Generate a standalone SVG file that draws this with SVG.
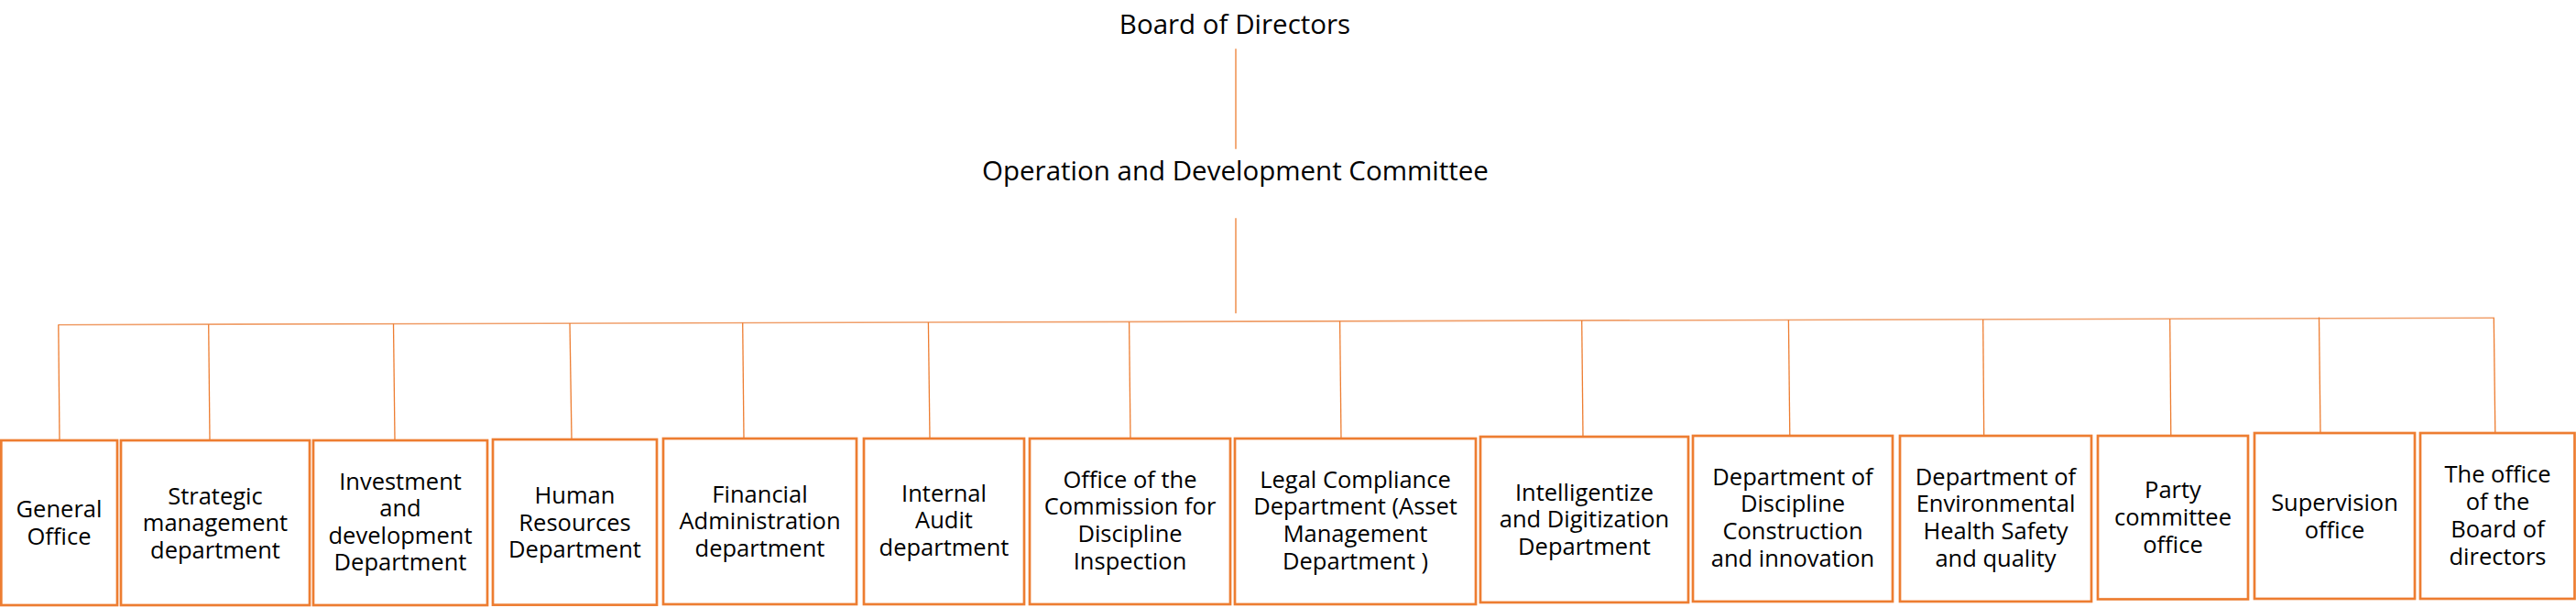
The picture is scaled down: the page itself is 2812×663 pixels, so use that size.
<svg xmlns="http://www.w3.org/2000/svg" width="2812" height="663" viewBox="0 0 2812 663">
<style>
.bg{fill:#fff}
.box{fill:#fff;stroke:#ED7D31;stroke-width:2.7}
.con{stroke:#ED7D31;stroke-width:1.3;fill:none}
.bus{stroke:#F0A06C;stroke-width:1.6;fill:none}
.t{font-family:"Open Sans","Noto Sans","Liberation Sans",sans-serif;fill:#000;text-anchor:middle}
.title{font-size:29.5px}
.lbl{font-size:25.5px}
</style>
<rect class="bg" x="0" y="0" width="2812" height="663"/>
<g id="connectors">
<line class="con" x1="1349" y1="53.3" x2="1349" y2="162.7"/>
<line class="con" x1="1349" y1="238.3" x2="1349" y2="342.3"/>
<line class="bus" x1="63.5" y1="354.7" x2="2723" y2="347.3"/>
<line class="con" x1="63.8" y1="354.7" x2="65" y2="481"/>
<line class="con" x1="227.7" y1="354.2" x2="229" y2="481"/>
<line class="con" x1="429.5" y1="353.7" x2="431" y2="481"/>
<line class="con" x1="622" y1="353.1" x2="624" y2="480"/>
<line class="con" x1="810.7" y1="352.6" x2="812" y2="479"/>
<line class="con" x1="1013.4" y1="352" x2="1015" y2="479"/>
<line class="con" x1="1232.6" y1="351.4" x2="1234" y2="479"/>
<line class="con" x1="1462.6" y1="350.8" x2="1464" y2="479"/>
<line class="con" x1="1726.7" y1="350.1" x2="1728" y2="477"/>
<line class="con" x1="1952.4" y1="349.4" x2="1953.8" y2="476"/>
<line class="con" x1="2164.7" y1="348.9" x2="2165.7" y2="476"/>
<line class="con" x1="2368.7" y1="348.3" x2="2369.8" y2="476"/>
<line class="con" x1="2531.5" y1="346.5" x2="2533" y2="473"/>
<line class="con" x1="2722.3" y1="347.3" x2="2723.8" y2="473"/>
</g>
<g id="board">
<text class="t title" x="1348" y="37.3">Board of Directors</text>
</g>
<g id="committee">
<text class="t title" x="1348.5" y="196.7">Operation and Development Committee</text>
</g>
<g id="n1">
<rect class="box" x="1.3" y="481" width="126.7" height="180"/>
<text class="t lbl" x="64.5" y="565">General</text>
<text class="t lbl" x="64.5" y="595">Office</text>
</g>
<g id="n2">
<rect class="box" x="132" y="481" width="206" height="180"/>
<text class="t lbl" x="235" y="550.5">Strategic</text>
<text class="t lbl" x="235" y="580">management</text>
<text class="t lbl" x="235" y="609.5">department</text>
</g>
<g id="n3">
<rect class="box" x="342" y="481" width="190" height="180"/>
<text class="t lbl" x="437" y="534.5">Investment</text>
<text class="t lbl" x="437" y="564">and</text>
<text class="t lbl" x="437" y="593.5">development</text>
<text class="t lbl" x="437" y="623">Department</text>
</g>
<g id="n4">
<rect class="box" x="538" y="480" width="179" height="180.7"/>
<text class="t lbl" x="627.5" y="550">Human</text>
<text class="t lbl" x="627.5" y="579.5">Resources</text>
<text class="t lbl" x="627.5" y="609">Department</text>
</g>
<g id="n5">
<rect class="box" x="724" y="479" width="211" height="181"/>
<text class="t lbl" x="829.5" y="548.5">Financial</text>
<text class="t lbl" x="829.5" y="578.3">Administration</text>
<text class="t lbl" x="829.5" y="608">department</text>
</g>
<g id="n6">
<rect class="box" x="943" y="479" width="175" height="181"/>
<text class="t lbl" x="1030.5" y="547.5">Internal</text>
<text class="t lbl" x="1030.5" y="577.3">Audit</text>
<text class="t lbl" x="1030.5" y="607">department</text>
</g>
<g id="n7">
<rect class="box" x="1124" y="479" width="219" height="181"/>
<text class="t lbl" x="1233.5" y="532.5">Office of the</text>
<text class="t lbl" x="1233.5" y="562.3">Commission for</text>
<text class="t lbl" x="1233.5" y="592.2">Discipline</text>
<text class="t lbl" x="1233.5" y="622">Inspection</text>
</g>
<g id="n8">
<rect class="box" x="1348" y="479" width="263" height="181"/>
<text class="t lbl" x="1479.5" y="532.5">Legal Compliance</text>
<text class="t lbl" x="1479.5" y="562.3">Department (Asset</text>
<text class="t lbl" x="1479.5" y="592.2">Management</text>
<text class="t lbl" x="1479.5" y="622">Department )</text>
</g>
<g id="n9">
<rect class="box" x="1616" y="477" width="227" height="181"/>
<text class="t lbl" x="1729.5" y="546.7">Intelligentize</text>
<text class="t lbl" x="1729.5" y="576.3">and Digitization</text>
<text class="t lbl" x="1729.5" y="606">Department</text>
</g>
<g id="n10">
<rect class="box" x="1848" y="476" width="218" height="181"/>
<text class="t lbl" x="1957" y="529.5">Department of</text>
<text class="t lbl" x="1957" y="559.2">Discipline</text>
<text class="t lbl" x="1957" y="589">Construction</text>
<text class="t lbl" x="1957" y="618.5">and innovation</text>
</g>
<g id="n11">
<rect class="box" x="2074" y="476" width="209" height="181"/>
<text class="t lbl" x="2178.5" y="529.5">Department of</text>
<text class="t lbl" x="2178.5" y="559.2">Environmental</text>
<text class="t lbl" x="2178.5" y="589">Health Safety</text>
<text class="t lbl" x="2178.5" y="618.5">and quality</text>
</g>
<g id="n12">
<rect class="box" x="2290" y="476" width="164" height="178.5"/>
<text class="t lbl" x="2372" y="544">Party</text>
<text class="t lbl" x="2372" y="574">committee</text>
<text class="t lbl" x="2372" y="604">office</text>
</g>
<g id="n13">
<rect class="box" x="2461" y="473" width="175" height="181"/>
<text class="t lbl" x="2548.5" y="558">Supervision</text>
<text class="t lbl" x="2548.5" y="588">office</text>
</g>
<g id="n14">
<rect class="box" x="2642" y="473" width="168.5" height="181"/>
<text class="t lbl" x="2726.5" y="527">The office</text>
<text class="t lbl" x="2726.5" y="556.8">of the</text>
<text class="t lbl" x="2726.5" y="586.7">Board of</text>
<text class="t lbl" x="2726.5" y="616.5">directors</text>
</g>
</svg>
